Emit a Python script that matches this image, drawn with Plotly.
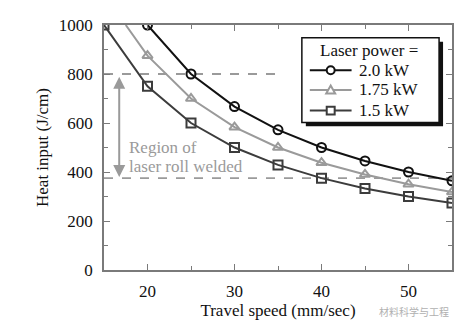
import plotly.graph_objects as go

# Data
speed_20 = [20, 25, 30, 35, 40, 45, 50, 55]
heat_20 = [1000, 800, 667, 572, 500, 445, 400, 364]

speed_175_line = [17.5, 20, 25, 30, 35, 40, 45, 50, 55]
heat_175_line = [1000, 875, 700, 583, 500, 438, 390, 350, 318]
speed_175_mk = [20, 25, 30, 35, 40, 45, 50, 55]
heat_175_mk = [875, 700, 583, 500, 438, 390, 350, 318]

speed_15 = [15, 20, 25, 30, 35, 40, 45, 50, 55]
heat_15 = [1000, 750, 600, 500, 429, 375, 333, 300, 273]

series_names = ["2.0 kW", "1.75 kW", "1.5 kW"]
legend_title = "Laser power ="

upper_limit = 800
lower_limit = 375

FONT = "Liberation Serif"
FS = 17
C_BLACK = "#111111"
C_GREY = "#9a9a9a"
C_DARK = "#3c3c3c"
C_AXIS = "#7a7a7a"

# plot-area geometry in pixels (for converting legend positions)
L, R, T, B = 104, 12, 25, 53
W, H = 466, 327
PW, PH = W - L - R, H - T - B


def px(xp):
    return (xp - L) / PW


def py(yp):
    return (H - B - yp) / PH


fig = go.Figure()

# reference dashed lines
fig.add_trace(go.Scatter(x=[15, 35], y=[upper_limit, upper_limit], mode="lines",
                         line=dict(color=C_GREY, width=1.8, dash="dash"),
                         showlegend=False, hoverinfo="skip"))
fig.add_trace(go.Scatter(x=[15, 55], y=[lower_limit, lower_limit], mode="lines",
                         line=dict(color=C_GREY, width=1.8, dash="dash"),
                         showlegend=False, hoverinfo="skip"))

fig.add_trace(go.Scatter(x=speed_20, y=heat_20, mode="lines+markers", name=series_names[0],
                         line=dict(color=C_BLACK, width=2),
                         marker=dict(symbol="circle-open", size=9, color=C_BLACK,
                                     line=dict(width=2, color=C_BLACK))))
fig.add_trace(go.Scatter(x=speed_175_line, y=heat_175_line, mode="lines",
                         line=dict(color=C_GREY, width=2), hoverinfo="skip"))
fig.add_trace(go.Scatter(x=speed_175_mk, y=heat_175_mk, mode="markers", name=series_names[1],
                         marker=dict(symbol="triangle-up-open", size=9, color=C_GREY,
                                     line=dict(width=2, color=C_GREY))))
fig.add_trace(go.Scatter(x=speed_15, y=heat_15, mode="lines+markers", name=series_names[2],
                         line=dict(color=C_DARK, width=2),
                         marker=dict(symbol="square-open", size=9, color=C_DARK,
                                     line=dict(width=2, color=C_DARK))))

# double-headed arrow for region
fig.add_annotation(x=16.75, y=lower_limit + 5, ax=16.75, ay=upper_limit - 5,
                   xref="x", yref="y", axref="x", ayref="y",
                   showarrow=True, arrowhead=2, startarrowhead=2, arrowside="end+start",
                   arrowsize=1.2, startarrowsize=1.2, arrowwidth=2, arrowcolor=C_GREY, text="")
fig.add_annotation(x=17.6, y=502, xref="x", yref="y", text="Region of",
                   showarrow=False, xanchor="left", yanchor="middle",
                   font=dict(family=FONT, size=FS, color=C_GREY))
fig.add_annotation(x=17.6, y=424, xref="x", yref="y", text="laser roll welded",
                   showarrow=False, xanchor="left", yanchor="middle",
                   font=dict(family=FONT, size=FS, color=C_GREY))

# watermark
fig.add_annotation(x=px(453), y=py(316), xref="paper", yref="paper",
                   text="材料科学与工程",
                   showarrow=False, xanchor="right", yanchor="middle",
                   font=dict(family="Noto Sans CJK SC", size=10, color="#b0b0b0"))

# ---- manual legend ----
# shadow + box
fig.add_shape(type="rect", xref="paper", yref="paper",
              x0=px(307), x1=px(445), y0=py(128), y1=py(42),
              fillcolor="#111111", line=dict(width=0), layer="above")
fig.add_shape(type="rect", xref="paper", yref="paper",
              x0=px(303), x1=px(441), y0=py(124), y1=py(38),
              fillcolor="white", line=dict(color="#111111", width=1.5), layer="above")
fig.add_annotation(x=px(371), y=py(51), xref="paper", yref="paper", text=legend_title,
                   showarrow=False, xanchor="center", yanchor="middle",
                   font=dict(family=FONT, size=FS, color="#111111"))

legend_rows = [(71, C_BLACK, "circle"), (91, C_GREY, "triangle"), (112, C_DARK, "square")]
for (yrow, col, sym), name in zip(legend_rows, series_names):
    fig.add_shape(type="line", xref="paper", yref="paper",
                  x0=px(311), x1=px(353), y0=py(yrow), y1=py(yrow),
                  line=dict(color=col, width=2), layer="above")
    cx, r = 332, 4
    if sym == "circle":
        fig.add_shape(type="circle", xref="paper", yref="paper",
                      x0=px(cx - r), x1=px(cx + r), y0=py(yrow + r), y1=py(yrow - r),
                      fillcolor="white", line=dict(color=col, width=2), layer="above")
    elif sym == "square":
        fig.add_shape(type="rect", xref="paper", yref="paper",
                      x0=px(cx - r), x1=px(cx + r), y0=py(yrow + r), y1=py(yrow - r),
                      fillcolor="white", line=dict(color=col, width=2), layer="above")
    else:
        path = (f"M {px(cx - r - 0.5)} {py(yrow + r - 0.5)} L {px(cx + r + 0.5)} {py(yrow + r - 0.5)} "
                f"L {px(cx)} {py(yrow - r - 0.5)} Z")
        fig.add_shape(type="path", xref="paper", yref="paper", path=path,
                      fillcolor="white", line=dict(color=col, width=2), layer="above")
    fig.add_annotation(x=px(358), y=py(yrow), xref="paper", yref="paper", text=name,
                       showarrow=False, xanchor="left", yanchor="middle",
                       font=dict(family=FONT, size=FS, color="#111111"))

axis_common = dict(
    showline=True, linecolor=C_AXIS, linewidth=1.5, mirror="ticks",
    ticks="inside", ticklen=6, tickwidth=1.2, tickcolor=C_AXIS,
    showgrid=False, zeroline=False,
    tickfont=dict(family=FONT, size=FS, color="#111111"),
)

fig.update_layout(
    width=W, height=H,
    margin=dict(l=L, r=R, t=T, b=B),
    paper_bgcolor="white", plot_bgcolor="white",
    font=dict(family=FONT, size=FS, color="#111111"),
    xaxis=dict(range=[15, 55], tickvals=[20, 30, 40, 50],
               minor=dict(tickvals=[25, 35, 45], ticks="inside", ticklen=4, tickcolor=C_AXIS),
               title=dict(text="Travel speed (mm/sec)", standoff=2,
                          font=dict(family=FONT, size=FS)),
               ticklabelstandoff=5, **axis_common),
    yaxis=dict(range=[0, 1000], tickvals=[0, 200, 400, 600, 800, 1000],
               minor=dict(tickvals=[100, 300, 500, 700, 900], ticks="inside", ticklen=4, tickcolor=C_AXIS),
               title=dict(text="Heat input (J/cm)", standoff=6,
                          font=dict(family=FONT, size=FS)),
               ticklabelstandoff=6, **axis_common),
    showlegend=False,
)

fig.write_html("out.html")
